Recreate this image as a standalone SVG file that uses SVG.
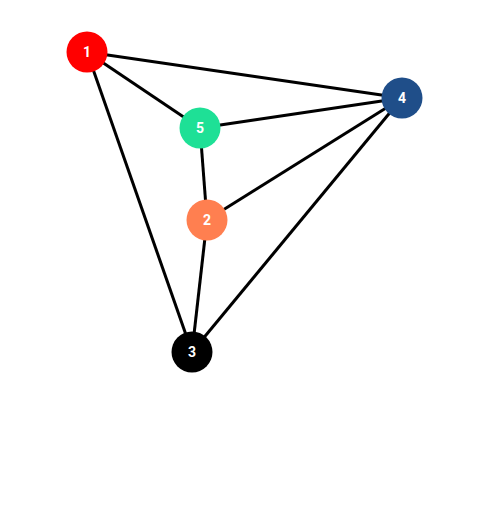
<svg xmlns="http://www.w3.org/2000/svg" width="494" height="505" viewBox="0 0 494 505">
<style>
.edge{stroke:#000;stroke-width:3;fill:none}
.node text{fill:#fff;font-family:Roboto,"Liberation Sans",sans-serif;font-weight:bold;font-size:14px;text-anchor:middle;dominant-baseline:central}
</style>
<rect width="494" height="505" fill="#fff"/>
<g id="edges">
<line class="edge" x1="87" y1="52" x2="402" y2="98"/>
<line class="edge" x1="87" y1="52" x2="200" y2="128"/>
<line class="edge" x1="87" y1="52" x2="192" y2="352"/>
<line class="edge" x1="200" y1="128" x2="402" y2="98"/>
<line class="edge" x1="200" y1="128" x2="207" y2="220"/>
<line class="edge" x1="207" y1="220" x2="402" y2="98"/>
<line class="edge" x1="207" y1="220" x2="192" y2="352"/>
<line class="edge" x1="192" y1="352" x2="402" y2="98"/>
</g>
<g id="node1" class="node"><circle cx="87" cy="52" r="20.5" fill="#ff0000"/><text x="87" y="52">1</text></g>
<g id="node2" class="node"><circle cx="207" cy="220" r="20.5" fill="#ff7f50"/><text x="207" y="220">2</text></g>
<g id="node3" class="node"><circle cx="192" cy="352" r="20.5" fill="#000000"/><text x="192" y="352">3</text></g>
<g id="node4" class="node"><circle cx="402" cy="98" r="20.5" fill="#1f4e89"/><text x="402" y="98">4</text></g>
<g id="node5" class="node"><circle cx="200" cy="128" r="20.5" fill="#1ee096"/><text x="200" y="128">5</text></g>
</svg>
